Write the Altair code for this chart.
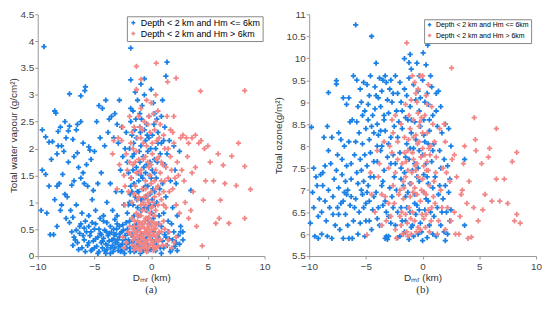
import altair as alt
import pandas as pd

LAB1 = "Depth < 2 km and Hm <= 6km"
LAB2 = "Depth < 2 km and Hm > 6km"
BLUE = "#1a80e6"
RED = "#f28585"

a_blue = [
(-9.45,3.9),(-9.7,0.85),(-9.2,0.8),(-9.6,1.6),(-9.3,1.52),(-9.6,2.35),(-9.3,2.22),(-9.0,2.12),(-8.7,2.13),(-8.5,2.7),(-8.4,2.66),(-8.2,2.32),(-8.0,2.4),(-7.9,2.05),(-7.6,2.5),(-7.5,2.2),(-7.3,2.33),(-7.2,2.42),(-7.2,3.02),(-6.9,2.17),(-6.6,2.35),(-6.5,2.45),(-6.2,2.98),(-6.2,2.5),(-5.85,3.08),(-5.8,3.15),(-6.0,2.1),(-5.5,2.03),(-5.4,1.97),(-8.8,1.8),(-8.3,1.3),(-8.1,1.35),(-7.8,1.52),(-7.6,1.15),(-7.4,1.1),(-7.0,1.32),(-6.8,1.85),(-6.5,1.92),(-6.2,1.45),(-6.0,1.55),(-5.6,1.3),(-5.3,1.8),(-5.1,1.22),(-8.2,2.05),(-7.7,1.95),(-8.6,0.4),(-8.3,0.55),(-8.0,0.85),(-7.9,0.95),(-7.5,0.7),(-7.2,0.62),(-6.9,0.72),(-6.6,0.95),(-6.3,0.55),(-6.1,0.8),(-5.8,0.65),(-5.5,0.75),(-5.2,1.05),(-8.9,0.4),(-7.0,0.45),(-6.7,0.3),(-7.3,1.75),(-6.4,1.65),(-5.7,1.7),(-9.0,1.3),(-8.5,1.05),(-6.8,1.4),(-5.9,1.35),(-7.1,0.85),(-8.3,1.9),
(-6.8,0.35),(-6.5,0.25),(-6.3,0.42),(-6.1,0.15),(-5.9,0.3),(-5.7,0.45),(-5.6,0.2),(-5.4,0.38),(-5.3,0.1),(-5.1,0.28),(-5.0,0.5),(-4.8,0.18),(-4.7,0.35),(-4.6,0.08),(-4.5,0.42),(-4.4,0.25),(-4.3,0.15),(-4.2,0.33),(-4.1,0.48),(-4.0,0.22),(-3.9,0.12),(-3.8,0.38),(-3.7,0.28),(-3.6,0.05),(-3.5,0.44),(-3.4,0.2),(-3.3,0.32),(-3.2,0.15),(-3.1,0.4),(-3.0,0.25),(-2.9,0.1),(-2.8,0.35),(-2.7,0.2),(-2.6,0.45),(-2.5,0.3),(-2.4,0.12),(-2.3,0.38),(-2.2,0.22),(-2.1,0.5),(-2.0,0.3),(-1.9,0.15),(-1.8,0.42),(-1.7,0.25),(-1.6,0.35),(-1.5,0.08),(-1.4,0.45),(-1.3,0.2),(-1.2,0.3),(-1.0,0.15),(-0.9,0.4),(-0.7,0.1),(-0.5,0.3),(-0.3,0.2),(0.0,0.12),(0.3,0.25),(0.6,0.35),(0.8,0.15),(1.0,0.28),(1.2,0.4),(1.4,0.2),(1.6,0.32),(1.8,0.12),(2.0,0.45),(2.2,0.25),(2.4,0.38),(2.6,0.45),(2.8,0.3),(-4.9,0.6),(-4.2,0.65),(-3.6,0.55),(-3.0,0.6),(-2.5,0.58),(-5.2,0.12),(-4.0,0.05),(-3.3,0.5),(-2.7,0.08),(-1.1,0.52),(-6.2,0.6),(-5.5,0.55),
(-2.1,0.8),(-1.9,1.0),(-1.8,1.3),(-1.7,0.7),(-1.6,1.6),(-1.5,1.9),(-1.4,1.1),(-1.3,2.2),(-1.2,0.9),(-1.1,1.4),(-1.0,1.75),(-0.9,2.05),(-0.8,0.6),(-0.7,1.25),(-0.6,2.35),(-0.5,1.55),(-0.4,0.85),(-0.3,1.95),(-0.2,2.6),(-0.1,1.15),(0.0,1.45),(0.1,2.25),(0.2,0.7),(0.3,1.8),(0.4,2.0),(0.5,1.0),(-1.8,2.5),(-1.6,2.7),(-1.2,2.9),(-0.8,2.8),(-0.6,3.0),(-0.4,2.45),(0.2,2.85),(0.5,2.55),(-1.5,1.35),(-1.3,1.65),(-1.1,0.75),(-0.9,1.05),(-0.7,1.85),(-0.5,2.15),(-0.3,1.3),(-0.1,0.95),(0.1,1.6),(-2.0,1.55),(-1.9,2.0),(-1.7,2.25),(-1.4,0.55),(-1.0,2.4),(-0.2,0.6),(0.3,1.2),(-1.6,0.95),(-1.2,1.2),(-0.9,1.5),(-0.6,0.9),(-0.4,1.7),(-2.2,2.3),(-1.8,3.28),(-0.6,3.3),(1.3,3.35),(1.4,3.61),(-1.8,3.87),(1.0,2.9),(0.9,2.6),(1.2,2.4),(0.8,1.9),
(-4.8,2.5),(-4.6,2.8),(-4.3,2.75),(-4.0,2.9),(-3.7,2.55),(-3.5,2.6),(-3.2,2.65),(-3.0,2.45),(-2.8,2.9),(-2.6,2.4),(-4.5,2.2),(-4.1,2.05),(-3.8,2.3),(-3.3,2.2),(-2.9,2.1),(-4.7,1.35),(-4.4,1.55),(-3.9,1.0),(-3.4,0.85),(-3.1,1.2),(-2.7,1.6),(-2.4,0.95),(-4.9,0.85),(-4.2,0.75),(-3.6,1.35),(-2.5,1.85),(-5.0,1.95),(-3.0,0.75),(-2.3,2.0),(-2.6,1.2),
(0.9,0.55),(1.1,0.8),(1.3,1.1),(1.5,0.65),(1.7,1.4),(1.9,0.9),(2.1,1.6),(2.3,0.75),(2.5,1.95),(2.8,0.45),(0.7,0.75),(1.2,1.7),(1.6,2.15),(2.0,2.05),(2.2,1.35),(1.0,1.35),(0.6,2.3),(0.9,2.1),(1.4,1.9),(3.5,1.22),(2.6,0.55),(1.8,0.6),
]
a_blue_more = [
(-6.9,0.2),(-6.6,0.48),(-6.4,0.12),(-6.0,0.38),(-5.8,0.08),(-5.5,0.25),(-5.3,0.45),(-5.0,0.15),(-4.9,0.32),(-4.7,0.05),(-4.6,0.5),(-4.4,0.4),(-4.3,0.28),(-4.1,0.1),(-3.95,0.45),(-3.85,0.2),(-3.7,0.42),(-3.55,0.15),(-3.45,0.3),(-3.35,0.08),(-3.25,0.4),(-3.15,0.25),(-3.05,0.5),(-2.95,0.3),(-2.85,0.18),(-2.75,0.42),(-2.65,0.1),(-2.55,0.22),(-2.45,0.48),(-2.35,0.05),(-2.25,0.3),(-2.15,0.15),(-2.05,0.42),(-1.95,0.25),(-1.85,0.08),(-1.75,0.4),(-1.65,0.18),(-1.55,0.28),(-1.45,0.3),(-1.35,0.1),(-1.25,0.45),(-1.15,0.22),(-1.05,0.35),(-0.95,0.05),(-0.85,0.28),(-0.75,0.4),(-0.65,0.2),(-0.55,0.12),(-0.45,0.45),(-0.35,0.35),(-0.25,0.1),(-0.15,0.38),(0.1,0.3),(0.2,0.45),(0.4,0.1),(0.5,0.2),(0.7,0.42),(0.9,0.05),(1.1,0.15),(1.3,0.35),(1.5,0.45),(1.7,0.08),(1.9,0.3),(2.1,0.18),(2.3,0.1),(2.5,0.22),(-5.9,0.52),(-5.2,0.62),(-4.5,0.7),(-3.9,0.62),(-3.2,0.68),(-2.8,0.55),(-2.2,0.62),(-1.6,0.55),
(-2.0,0.95),(-1.85,1.15),(-1.75,1.45),(-1.65,1.85),(-1.55,2.1),(-1.45,2.35),(-1.35,2.55),(-1.25,1.05),(-1.15,1.55),(-1.05,1.95),(-0.95,2.3),(-0.85,2.55),(-0.75,1.45),(-0.65,1.65),(-0.55,0.65),(-0.45,1.1),(-0.35,2.25),(-0.25,0.9),(-0.15,1.5),(-0.05,2.0),(0.05,0.8),(0.15,1.25),(0.25,2.45),(0.35,0.95),(0.45,1.45),(0.55,1.75),(0.65,0.6),(0.75,1.25),(-1.9,0.65),(-1.7,1.2),(-1.5,0.75),(-1.3,0.6),(-1.1,1.2),(-0.9,0.85),(-0.7,1.05),(-0.5,1.3),(-0.3,0.7),(-0.1,1.75),(0.1,1.05),(0.3,1.55),(-2.1,1.75),(-1.8,2.75),(-1.0,2.65),(-0.2,2.2),(0.6,2.1),(-1.4,3.05),(0.0,3.1),(-0.9,3.2),(0.3,2.65),(1.1,2.15),
]

a_red = [
(-1.8,0.4),(-1.6,0.3),(-1.5,0.55),(-1.4,0.2),(-1.3,0.45),(-1.2,0.65),(-1.1,0.35),(-1.0,0.5),(-0.9,0.25),(-0.8,0.6),(-0.7,0.4),(-0.6,0.15),(-0.5,0.7),(-0.4,0.45),(-0.3,0.3),(-0.2,0.55),(-0.1,0.2),(0.0,0.65),(0.1,0.4),(0.2,0.25),(0.3,0.5),(0.4,0.35),(0.5,0.6),(0.6,0.18),(0.7,0.45),(0.8,0.3),(-1.7,0.7),(-1.3,0.8),(-0.9,0.75),(-0.5,0.85),(-0.1,0.8),(0.3,0.75),(-1.5,0.12),(-1.0,0.1),(-0.4,0.08),(0.2,0.1),(-0.8,0.35),(-0.6,0.52),(-0.3,0.6),(0.0,0.48),(-0.2,0.38),(-1.2,0.28),(-0.7,0.22),(0.4,0.52),(-1.9,0.55),(-2.2,0.25),(-2.5,0.35),(1.0,0.2),(1.2,0.5),(1.5,0.3),(1.8,0.15),(2.2,0.35),(-0.5,0.95),(-0.2,1.0),(0.1,0.92),(-0.9,0.95),
(-2.4,1.5),(-2.2,1.9),(-2.0,1.2),(-1.8,2.1),(-1.7,1.0),(-1.6,1.7),(-1.5,2.4),(-1.4,1.3),(-1.3,1.95),(-1.2,1.05),(-1.1,2.6),(-1.0,1.55),(-0.9,2.2),(-0.8,1.25),(-0.7,1.8),(-0.6,2.5),(-0.5,1.4),(-0.4,2.05),(-0.3,1.15),(-0.2,1.65),(-0.1,2.3),(0.0,1.35),(0.1,1.9),(0.2,2.65),(0.3,1.1),(0.4,1.6),(0.5,2.15),(0.6,1.3),(0.7,1.85),(0.8,2.45),(0.9,1.05),(1.0,1.7),(1.1,2.25),(1.2,1.4),(1.3,0.9),(1.5,2.0),(1.6,1.2),(1.8,1.6),(2.0,2.1),(2.2,0.95),(2.4,1.5),(2.6,2.2),(-2.6,2.15),(-2.3,0.95),(-1.9,2.6),(-0.9,2.75),(0.0,2.85),(0.6,2.7),(1.4,2.6),(2.0,2.6),(-0.4,2.9),(0.4,3.0),(-1.3,3.1),(-1.3,3.53),(0.45,3.59),(0.2,4.12),(-0.9,3.29),(1.45,3.24),(2.2,3.31),(-1.0,2.4),(-0.3,1.75),(0.9,1.4),(-1.4,1.75),(0.3,2.35),(1.7,2.35),(-2.8,1.7),(-2.9,2.2),(-3.3,2.15),(-3.4,1.9),(-3.0,1.25),(-1.8,1.45),(-0.6,1.1),(0.7,1.15),(1.1,0.95),(2.5,0.8),(2.3,1.75),
(2.8,2.25),(3.1,2.2),(3.3,2.1),(3.6,2.2),(3.9,2.25),(4.2,2.1),(4.4,2.15),(4.7,2.0),(3.9,1.65),(3.6,1.55),(4.8,1.4),(4.6,1.04),(4.5,0.19),(5.5,1.4),(5.7,0.61),(6.0,0.7),(6.1,1.04),(6.35,1.69),(6.85,0.61),(7.1,1.86),(7.5,1.31),(7.7,2.1),(8.25,1.67),(8.75,1.24),(8.25,0.7),(4.35,3.07),(8.25,3.08),(3.0,1.0),(3.3,0.7),(3.5,0.85),(2.9,1.4),(3.2,1.85),(4.0,0.55),(5.2,1.75),(5.9,1.9),(6.5,1.35),(3.7,1.2),(5.0,2.05),
]
a_red_more = [
(-1.7,0.2),(-1.6,0.5),(-1.5,0.35),(-1.45,0.65),(-1.35,0.15),(-1.25,0.4),(-1.15,0.55),(-1.05,0.25),(-0.95,0.45),(-0.85,0.15),(-0.75,0.55),(-0.65,0.3),(-0.55,0.45),(-0.45,0.25),(-0.35,0.5),(-0.25,0.15),(-0.15,0.45),(-0.05,0.3),(0.05,0.55),(0.15,0.2),(0.25,0.4),(0.35,0.6),(0.45,0.15),(0.55,0.4),(0.65,0.28),(0.75,0.6),(-1.2,0.75),(-0.8,0.85),(-0.4,0.7),(0.0,0.9),(0.4,0.85),(-0.6,0.65),(-0.2,0.72),(0.2,0.62),(-1.0,0.62),(-1.4,0.45),(-0.9,0.35),(-0.3,0.42),(0.1,0.25),(0.5,0.3),(-1.1,0.15),(-0.5,0.2),(0.3,0.15),(0.9,0.45),(1.1,0.65),(1.3,0.2),(1.6,0.45),(2.0,0.25),(-2.0,0.45),(-2.4,0.15),(-0.7,1.0),(-0.3,1.05),(0.2,1.0),(0.6,0.95),(-1.1,1.1),(0.0,1.2),(-0.5,1.25),(0.4,1.25),
(-2.1,1.6),(-1.9,1.75),(-1.7,2.3),(-1.5,1.15),(-1.3,1.55),(-1.1,1.8),(-0.9,1.6),(-0.7,2.1),(-0.5,1.85),(-0.3,2.45),(-0.1,1.5),(0.1,2.1),(0.3,1.4),(0.5,1.8),(0.7,2.2),(0.9,1.75),(1.1,1.2),(1.3,1.65),(1.5,1.45),(1.7,1.85),(1.9,1.25),(2.1,1.45),(-2.3,1.3),(-1.6,2.0),(-0.8,2.35),(0.4,2.5),(1.2,2.0),(-1.2,2.2),(-0.2,2.6),(0.8,1.55),(1.9,2.3),(2.7,1.6),(-2.5,2.4),(0.0,1.7),
]

b_blue = [
(-9.8,8.43),(-8.3,9.22),(-7.6,9.49),(-7.6,9.41),(-9.9,6.25),(-9.6,6.6),(-9.5,5.95),(-9.4,7.3),(-9.2,6.4),(-9.1,6.8),(-9.0,7.35),(-8.9,6.0),(-8.8,7.1),(-8.6,7.55),(-8.5,6.3),(-8.3,7.0),(-8.2,6.6),(-8.1,7.6),(-8.0,5.9),(-7.9,6.85),(-7.8,7.25),(-7.7,6.2),(-7.6,7.45),(-7.5,6.6),(-7.4,7.05),(-7.3,6.1),(-7.2,8.15),(-7.1,7.35),(-7.0,6.75),(-6.9,8.0),(-6.8,6.45),(-6.7,7.55),(-6.6,7.0),(-6.5,5.9),(-6.4,6.65),(-6.3,7.25),(-6.2,8.6),(-6.1,6.3),(-6.0,7.8),(-8.7,8.2),(-8.4,8.45),(-8.0,8.2),(-7.4,8.3),(-7.0,9.1),(-6.7,8.95),(-6.5,9.1),(-6.4,8.55),(-6.1,9.6),(-9.7,6.95),(-8.6,6.75),(-7.9,6.45),(-7.2,6.7),(-6.9,6.95),(-6.6,6.2),(-6.3,6.85),(-9.3,7.1),(-8.4,5.95),(-7.0,5.9),(-6.2,5.9),(-7.5,7.8),(-8.8,7.4),(-6.8,7.2),
(-5.9,10.76),(-4.5,10.5),(-4.1,9.89),(-5.8,9.5),(-5.5,9.3),(-5.2,9.45),(-4.9,9.4),(-4.6,9.6),(-4.2,9.35),(-3.8,9.55),(-3.5,9.5),(-3.2,9.45),(-2.9,9.3),(-5.7,8.9),(-5.4,9.0),(-5.1,8.8),(-4.8,8.95),(-4.4,8.7),(-4.0,8.5),(-3.7,8.9),(-3.4,8.6),(-3.0,8.75),(-2.7,9.0),(-5.9,8.1),(-5.6,8.3),(-5.3,8.05),(-5.0,8.4),(-4.7,8.15),(-4.3,8.3),(-3.9,8.25),(-3.6,8.0),(-3.3,8.35),(-2.8,8.2),(-5.8,7.4),(-5.5,7.7),(-5.2,7.2),(-4.9,7.55),(-4.6,7.85),(-4.3,7.3),(-4.0,7.65),(-3.7,7.9),(-3.4,7.45),(-3.1,7.75),(-2.8,7.6),(-5.9,6.8),(-5.6,6.5),(-5.3,6.9),(-5.0,6.3),(-4.7,6.75),(-4.4,6.55),(-4.1,6.95),(-3.8,6.2),(-3.5,6.65),(-3.2,5.95),(-3.1,5.88),(-3.0,6.4),(-2.7,6.85),(-5.7,6.0),(-5.1,5.95),(-4.5,6.1),(-4.0,6.35),(-3.6,7.1),(-2.9,7.05),(-5.4,7.0),(-4.8,7.1),(-3.3,6.75),
(-1.6,9.99),(-1.1,10.09),(-0.5,9.89),(0.05,10.12),(0.45,10.5),(0.45,10.3),(-2.4,9.6),(-2.0,9.45),(-1.6,9.3),(-1.2,9.55),(-0.8,9.4),(-0.4,9.25),(0.0,9.5),(0.4,9.2),(0.8,9.35),(-2.3,8.8),(-1.9,9.0),(-1.5,8.65),(-1.1,8.9),(-0.7,8.55),(-0.3,8.8),(0.1,8.6),(0.5,8.95),(0.9,8.7),(-2.2,8.2),(-1.8,8.4),(-1.4,8.05),(-1.0,8.3),(-0.6,8.15),(-0.2,8.45),(0.2,8.1),(0.6,8.35),(1.0,8.05),(-2.4,7.6),(-2.0,7.85),(-1.6,7.4),(-1.2,7.7),(-0.8,7.95),(-0.4,7.5),(0.0,7.8),(0.4,7.3),(0.8,7.65),(-2.3,7.0),(-1.9,7.25),(-1.5,6.85),(-1.1,7.15),(-0.7,6.9),(-0.3,7.2),(0.1,6.95),(0.5,6.75),(0.9,7.05),(-2.2,6.5),(-1.8,6.3),(-1.4,6.6),(-1.0,6.15),(-0.6,6.45),(-0.2,6.25),(0.2,6.55),(0.6,6.2),(1.0,6.4),(-2.0,5.95),(-1.6,6.05),(-1.2,5.88),(-0.8,5.95),(-0.4,6.0),(0.0,5.85),(0.4,5.92),(-1.3,8.6),(-0.9,7.45),(-0.5,6.65),(-1.7,7.1),(0.3,7.6),(-2.1,8.55),(0.7,9.6),(-1.0,9.75),
(1.2,9.2),(1.4,9.25),(1.6,8.9),(1.3,8.45),(1.7,8.3),(2.0,8.5),(2.3,8.4),(1.5,7.9),(1.9,7.7),(2.2,7.55),(1.1,7.3),(1.5,7.1),(1.8,6.8),(2.1,6.5),(2.4,6.3),(1.3,6.6),(1.6,6.2),(2.0,5.85),(1.9,6.05),(2.5,8.0),(2.4,7.25),(2.5,6.55),(1.2,5.95),(3.7,7.7),(3.7,6.2),(2.3,6.95),
]
b_blue_more = [
(-5.5,6.25),(-5.2,6.6),(-4.9,6.95),(-4.6,7.3),(-4.3,7.65),(-4.0,8.0),(-3.7,8.35),(-3.4,8.7),(-3.1,9.05),(-2.8,9.5),(-5.7,7.15),(-5.4,7.45),(-5.1,7.8),(-4.8,8.6),(-4.5,8.45),(-4.2,8.85),(-3.9,9.1),(-3.6,9.25),(-3.3,9.6),(-3.0,8.05),(-5.8,8.55),(-5.3,8.7),(-4.7,9.15),(-4.1,9.15),(-2.6,9.2),(-2.5,8.45),(-2.6,7.8),(-2.5,7.3),(-2.6,6.6),(-2.4,6.2),(-3.5,7.2),(-3.2,6.5),(-3.9,6.6),(-4.3,6.85),(-4.7,6.3),(-5.0,6.7),(-3.0,5.95),(-3.3,5.9),(-2.8,6.25),(-2.2,5.92),(-1.9,6.6),(-1.7,6.0),(-1.5,6.3),(-1.3,6.95),(-1.1,6.5),(-0.9,6.2),(-0.7,6.7),(-0.5,7.3),(-0.3,6.55),(-0.1,6.05),(0.1,7.35),(0.3,6.8),(0.5,7.15),(0.7,6.5),(0.9,6.0),(-1.9,7.5),(-1.5,7.75),(-1.1,7.95),(-0.7,7.6),(-0.3,7.9),(0.1,8.25),(0.5,8.05),(0.9,7.9),(-1.8,8.8),(-1.4,9.15),(-1.0,8.6),(-0.6,9.05),(-0.2,9.1),(0.2,9.0),(0.6,8.6),(-2.2,9.2),(-1.2,9.9),(-0.3,9.6),(0.3,9.85),(1.2,8.8),(1.6,7.5),(2.0,7.1),(1.4,6.9),(1.7,6.5),(2.2,6.0),(-6.0,6.6),(-6.3,7.6),(-6.7,6.9),(-7.1,7.7),(-8.3,7.9),(-8.9,6.5),(-9.6,7.5),(-9.2,5.9),(-7.4,6.45),(-6.5,8.1),
]

b_red = [
(-1.9,6.2),(-1.7,6.8),(-1.5,7.3),(-1.3,7.9),(-1.1,8.4),(-0.9,6.5),(-0.7,7.05),(-0.5,7.6),(-0.3,8.1),(-0.1,8.65),(0.1,6.35),(0.3,6.9),(0.5,7.45),(0.7,8.0),(0.9,8.5),(1.1,6.7),(-1.8,7.6),(-1.6,8.2),(-1.4,6.05),(-1.2,6.6),(-1.0,7.15),(-0.8,7.7),(-0.6,8.25),(-0.4,6.15),(-0.2,6.75),(0.0,7.25),(0.2,7.8),(0.4,8.3),(0.6,6.05),(0.8,6.6),(1.0,7.2),(1.2,7.75),(-2.0,7.0),(-1.5,6.45),(-1.0,6.0),(-0.5,6.9),(0.0,7.95),(0.5,6.55),(-1.3,7.45),(-0.9,7.85),(-0.4,7.3),(0.1,7.55),(0.6,7.1),(-0.7,6.3),(-0.2,6.1),(0.3,6.45),(-1.1,6.85),(-0.6,7.45),(-0.1,7.0),(0.4,7.65),(-1.7,7.2),(-0.3,8.45),(-0.8,8.6),(0.2,8.7),(-0.5,9.0),(0.0,9.6),(-0.4,9.3),(-1.0,9.05),(-1.4,10.35),(-0.7,9.45),(-1.9,8.5),(-2.4,8.7),(-2.6,8.3),(0.8,8.9),(0.3,9.15),
(-4.9,5.98),(-4.5,6.9),(-4.2,6.5),(-3.9,7.3),(-3.6,6.2),(-3.3,6.85),(-3.0,7.5),(-2.8,6.4),(-2.6,7.1),(-2.4,6.1),(-2.2,7.7),(-3.4,8.1),(-2.9,8.0),(-2.5,6.7),(-2.3,5.9),(-3.8,7.6),(-2.7,7.85),(-4.6,7.4),(-2.1,6.9),(-3.2,6.3),
(1.4,6.3),(1.6,7.0),(1.8,7.5),(2.0,6.1),(2.2,6.6),(2.4,7.2),(2.6,7.7),(2.8,6.5),(3.0,7.3),(3.2,6.0),(3.4,6.9),(3.6,7.6),(3.9,6.7),(4.1,7.2),(4.3,5.93),(4.5,6.6),(4.7,7.9),(4.9,6.3),(5.2,7.6),(5.5,6.9),(5.8,7.75),(6.1,6.75),(6.5,7.25),(6.8,6.75),(7.2,7.25),(7.5,6.7),(7.9,7.65),(8.1,6.3),(8.3,6.45),(8.6,6.25),(8.3,7.86),(4.55,8.65),(6.5,8.4),(4.65,8.15),(2.55,9.78),(5.9,7.95),(3.7,8.0),(2.0,8.1),(1.5,8.4),(2.9,6.0),(4.0,5.9),(5.3,6.55),(3.5,7.0),
]
b_red_more = [
(-1.85,6.5),(-1.65,7.05),(-1.45,7.65),(-1.25,8.15),(-1.05,6.35),(-0.85,6.95),(-0.65,7.55),(-0.45,8.05),(-0.25,8.55),(-0.05,6.45),(0.15,6.95),(0.35,7.45),(0.55,7.95),(0.75,6.3),(0.95,6.85),(1.15,7.4),(-1.75,6.0),(-1.35,6.25),(-0.95,7.4),(-0.55,6.05),(-0.15,7.75),(0.25,6.15),(0.65,7.8),(1.05,8.1),(-1.6,7.85),(-1.2,8.7),(-0.8,8.2),(-0.4,8.75),(0.0,8.3),(0.4,8.95),(-0.6,9.2),(-0.2,9.6),(0.5,9.4),(-0.9,9.6),(-1.5,8.95),(-2.2,8.1),(-2.7,8.6),(-2.4,7.4),(-2.0,6.4),(1.3,6.0),(1.7,6.6),(2.1,7.4),(2.5,6.3),(2.8,7.8),(3.3,6.4),(1.9,8.5),(-3.0,6.7),(-3.6,6.9),(-4.0,7.9),(-1.3,5.95),
]

x_ticks = [-10, -5, 0, 5, 10]
ya_ticks = [0, 0.5, 1, 1.5, 2, 2.5, 3, 3.5, 4, 4.5]
yb_ticks = [5.5, 6, 6.5, 7, 7.5, 8, 8.5, 9, 9.5, 10, 10.5, 11]

PLUS = "M-1,0L1,0M0,-1L0,1"
W, H = 229, 244


def frame(blue, red):
    rows = [{"x": x, "y": y, "s": LAB1, "o": 0} for x, y in blue]
    rows += [{"x": x, "y": y, "s": LAB2, "o": 1} for x, y in red]
    return pd.DataFrame(rows)


def panel(df, ydom, yticks, ytitle, sub, loff, lfs, ssize):
    return alt.Chart(df).mark_point(
        shape=PLUS, filled=False, size=28, strokeWidth=1.8, opacity=1
    ).encode(
        x=alt.X("x:Q", scale=alt.Scale(domain=[-10, 10], nice=False),
                axis=alt.Axis(values=x_ticks, title="Dₘᵣ (km)", format="~r", labelFlush=False,
                              labelPadding=3, titlePadding=1)),
        y=alt.Y("y:Q", scale=alt.Scale(domain=ydom, nice=False, zero=False),
                axis=alt.Axis(values=yticks, title=ytitle, format="~r", labelFlush=False)),
        color=alt.Color("s:N", scale=alt.Scale(domain=[LAB1, LAB2], range=[BLUE, RED]),
                        legend=alt.Legend(title=None, orient="top-right", offset=loff,
                                          symbolType=PLUS, symbolSize=ssize, symbolStrokeWidth=1.5,
                                          labelFontSize=lfs, labelColor="#000", labelFont="Liberation Sans",
                                          strokeColor="#888", fillColor="#ffffff", padding=2,
                                          rowPadding=0, labelOffset=3, symbolOffset=0)),
        order=alt.Order("o:Q"),
    ).properties(
        width=W, height=H,
        title=alt.TitleParams(sub, orient="bottom", fontSize=11, fontWeight="normal",
                              font="Liberation Serif", color="#333", offset=1),
    )


pa = panel(frame(a_blue + a_blue_more, a_red + a_red_more), [0, 4.5], ya_ticks,
           "Total water vapour (g/cm²)", "(a)", 2, 9, 16)
pb = panel(frame(b_blue + b_blue_more, b_red + b_red_more), [5.5, 11], yb_ticks,
           "Total ozone(g/m²)", "(b)", 5, 7, 12)

chart = alt.hconcat(pa, pb, spacing=3).resolve_scale(color="independent").resolve_legend(
    color="independent"
).configure(padding=0).configure_view(strokeWidth=0).configure_axis(
    grid=False, domainColor="#999", tickColor="#999", tickSize=3,
    labelFont="Liberation Sans", labelFontSize=10, labelColor="#444", labelPadding=1,
    titleFont="Liberation Sans", titleFontSize=10, titleFontWeight="normal", titleColor="#333",
    titlePadding=2,
)

chart.save("out.html", embed_options={"renderer": "svg", "actions": False})
